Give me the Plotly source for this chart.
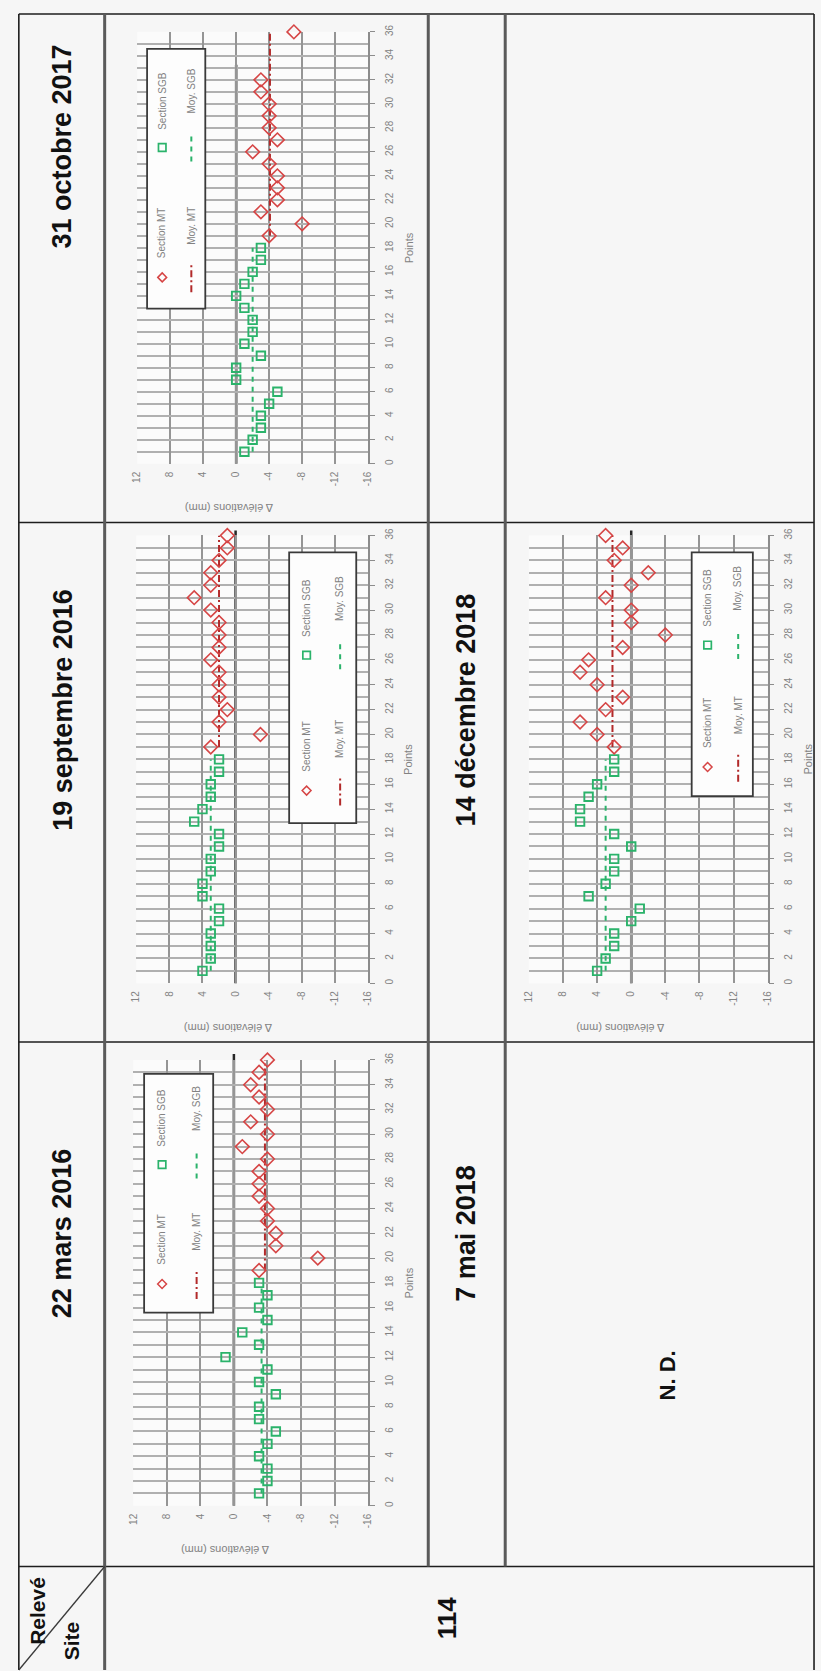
import plotly.graph_objects as go

W, H = 821, 1671


def fx(x):
    return x / W


def fy(y):
    return 1 - y / H


# ---------------- data ----------------
points_sgb = list(range(1, 19))
points_mt = list(range(19, 37))
value_ticks = [12, 8, 4, 0, -4, -8, -12, -16]
value_ticktext = ["12", "8", "4", "0", "-4", "-8", "-12", "-16"]
point_ticks = list(range(0, 37, 2))

dates_row1 = ["22 mars 2016", "19 septembre 2016", "31 octobre 2017"]
dates_row2 = ["7 mai 2018", "14 décembre 2018"]
site_label = "114"
nd_label = "N. D."

# 22 mars 2016
sgb_2016_03 = [-3, -4, -4, -3, -4, -5, -3, -3, -5, -3, -4, 1, -3, -1, -4, -3, -4, -3]
mt_2016_03 = [-3, -10, -5, -5, -4, -4, -3, -3, -3, -4, -1, -4, -2, -4, -3, -2, -3, -4]
moy_sgb_2016_03 = -3.3
moy_mt_2016_03 = -3.7

# 19 septembre 2016
sgb_2016_09 = [4, 3, 3, 3, 2, 2, 4, 4, 3, 3, 2, 2, 5, 4, 3, 3, 2, 2]
mt_2016_09 = [3, -3, 2, 1, 2, 2, 2, 3, 2, 2, 2, 3, 5, 3, 3, 2, 1, 1]
moy_sgb_2016_09 = 3.0
moy_mt_2016_09 = 2.0

# 31 octobre 2017
sgb_2017_10 = [-1, -2, -3, -3, -4, -5, 0, 0, -3, -1, -2, -2, -1, 0, -1, -2, -3, -3]
mt_2017_10 = [-4, -8, -3, -5, -5, -5, -4, -2, -5, -4, -4, -4, -3, -3, None, None, None, -7]
moy_sgb_2017_10 = -2.0
moy_mt_2017_10 = -4.1

# 14 décembre 2018
sgb_2018_12 = [4, 3, 2, 2, 0, -1, 5, 3, 2, 2, 0, 2, 6, 6, 5, 4, 2, 2]
mt_2018_12 = [2, 4, 6, 3, 1, 4, 6, 5, 1, -4, 0, 0, 3, 0, -2, 2, 1, 3]
moy_sgb_2018_12 = 3.0
moy_mt_2018_12 = 2.2

legend_labels = ["Section MT", "Section SGB", "Moy. MT", "Moy. SGB"]
x_title = "Points"
y_title = "Δ élévations (mm)"

# ---------------- styling / layout geometry ----------------
RED = "#d64545"
DARKRED = "#b22a2a"
GREEN = "#2bb36b"
GRID_V = "#959595"
GRID_H = "#b0b0b0"
TXT = "#828282"
BG = "#f6f6f6"
BASE_FONT = "Liberation Sans, Arial, sans-serif"
HEAD_FONT = "Liberation Sans, Arial, sans-serif"
DASH_SGB = "5px,5px"
DASH_MT = "7px,3px,2px,3px"

charts = [
    dict(sgb=sgb_2016_03, mt=mt_2016_03, msgb=moy_sgb_2016_03, mmt=moy_mt_2016_03,
         l=129, r=367, t=1058, b=1506, zt=1052, leg=(140, 1072, 210, 1312)),
    dict(sgb=sgb_2016_09, mt=mt_2016_09, msgb=moy_sgb_2016_09, mmt=moy_mt_2016_09,
         l=132, r=367, t=531, b=981, zt=526, leg=(287, 548, 355, 820)),
    dict(sgb=sgb_2017_10, mt=mt_2017_10, msgb=moy_sgb_2017_10, mmt=moy_mt_2017_10,
         l=133, r=367, t=25, b=459, zt=58, leg=(143, 42, 202, 303)),
    dict(sgb=sgb_2018_12, mt=mt_2018_12, msgb=moy_sgb_2018_12, mmt=moy_mt_2018_12,
         l=530, r=772, t=531, b=981, zt=526, leg=(695, 548, 757, 793)),
]

fig = go.Figure()
shapes = []
annotations = []
layout_axes = {}


def note(text, x, y, angle=-90, size=10, color=TXT, family=BASE_FONT, weight="normal",
         xanchor="center", yanchor="middle"):
    annotations.append(dict(text=text, xref="paper", yref="paper", x=fx(x), y=fy(y),
                            textangle=angle, showarrow=False, xanchor=xanchor, yanchor=yanchor,
                            font=dict(size=size, color=color, family=family, weight=weight)))


for i, c in enumerate(charts, start=1):
    xa = "x" if i == 1 else f"x{i}"
    ya = "y" if i == 1 else f"y{i}"
    fig.add_trace(go.Scatter(x=[c["msgb"], c["msgb"]], y=[points_sgb[0], points_sgb[-1]],
                             xaxis=xa, yaxis=ya, mode="lines",
                             line=dict(color=GREEN, dash=DASH_SGB, width=2)))
    fig.add_trace(go.Scatter(x=[c["mmt"], c["mmt"]], y=[points_mt[0], points_mt[-1]],
                             xaxis=xa, yaxis=ya, mode="lines",
                             line=dict(color=DARKRED, dash=DASH_MT, width=2)))
    fig.add_trace(go.Scatter(x=c["sgb"], y=points_sgb, xaxis=xa, yaxis=ya, mode="markers",
                             cliponaxis=False,
                             marker=dict(symbol="square-open", size=8.5, color=GREEN,
                                         line=dict(width=1.9, color=GREEN))))
    fig.add_trace(go.Scatter(x=c["mt"], y=points_mt, xaxis=xa, yaxis=ya, mode="markers",
                             cliponaxis=False,
                             marker=dict(symbol="diamond-open", size=10.5, color=RED,
                                         line=dict(width=1.6, color=RED))))

    kx = "xaxis" if i == 1 else f"xaxis{i}"
    ky = "yaxis" if i == 1 else f"yaxis{i}"
    layout_axes[kx] = dict(domain=[fx(c["l"]), fx(c["r"])], range=[12, -16], anchor=ya,
                           tickmode="array", tickvals=value_ticks, ticktext=value_ticktext,
                           tickangle=-90, showgrid=True, gridcolor=GRID_V, gridwidth=2,
                           zeroline=False, showline=False, ticks="",
                           ticklabelstandoff=5,
                           tickfont=dict(size=10, color=TXT, family=BASE_FONT))
    layout_axes[ky] = dict(domain=[fy(c["b"]), fy(c["t"])], range=[0, 36], anchor=xa,
                           side="right", tickmode="linear", tick0=0, dtick=2,
                           tickangle=-90, showgrid=True, gridcolor=GRID_H, gridwidth=1.5,
                           minor=dict(dtick=1, tick0=0, showgrid=True, gridcolor=GRID_H,
                                      gridwidth=1.5),
                           showline=True, linecolor="#8c8c8c", linewidth=1.5,
                           ticks="outside", ticklen=5, tickcolor="#8c8c8c", tickwidth=1.2,
                           zeroline=False, ticklabelstandoff=6,
                           tickfont=dict(size=10, color=TXT, family=BASE_FONT))

    # zero line
    shapes.append(dict(type="line", xref=xa, yref="paper", x0=0, x1=0,
                       y0=fy(c["b"]), y1=fy(c["zt"]), layer="between",
                       line=dict(color="#262626", width=2.5)))

    # axis titles
    note(x_title, c["r"] + 41, (c["t"] + c["b"]) / 2, size=11)
    note(y_title, c["l"] + 93, c["b"] + 45, angle=180, size=11)

    # hand-drawn rotated legend
    bx0, by0, bx1, by1 = c["leg"]
    w, h = bx1 - bx0, by1 - by0
    shapes.append(dict(type="rect", xref="paper", yref="paper", x0=fx(bx0), x1=fx(bx1),
                       y0=fy(by1), y1=fy(by0), fillcolor="#fdfdfd",
                       line=dict(color="#3a3a3a", width=1.8), layer="above"))
    c1x = bx0 + 0.26 * w
    c2x = bx0 + 0.76 * w
    ga = by1 - 0.12 * h
    gb = by1 - 0.62 * h
    d = 4.5
    shapes.append(dict(type="path", xref="paper", yref="paper",
                       path=f"M {fx(c1x - d)} {fy(ga)} L {fx(c1x)} {fy(ga - d)} L {fx(c1x + d)} {fy(ga)} L {fx(c1x)} {fy(ga + d)} Z",
                       line=dict(color=RED, width=1.5), layer="above"))
    s = 3.8
    shapes.append(dict(type="rect", xref="paper", yref="paper", x0=fx(c1x - s), x1=fx(c1x + s),
                       y0=fy(gb + s), y1=fy(gb - s), line=dict(color=GREEN, width=1.7),
                       layer="above"))
    shapes.append(dict(type="line", xref="paper", yref="paper", x0=fx(c2x), x1=fx(c2x),
                       y0=fy(ga + 15), y1=fy(ga - 15), line=dict(color=DARKRED, width=2, dash=DASH_MT),
                       layer="above"))
    shapes.append(dict(type="line", xref="paper", yref="paper", x0=fx(c2x), x1=fx(c2x),
                       y0=fy(gb + 14), y1=fy(gb - 14), line=dict(color=GREEN, width=2, dash=DASH_SGB),
                       layer="above"))
    for txt, xx, yy in [(legend_labels[0], c1x, ga - 17), (legend_labels[1], c1x, gb - 16),
                        (legend_labels[2], c2x, ga - 31), (legend_labels[3], c2x, gb - 32)]:
        note(txt, xx, yy, size=10, yanchor="bottom")

# ---------------- table lines ----------------
for yy in [7, 518, 1040, 1567]:
    shapes.append(dict(type="line", xref="paper", yref="paper", x0=fx(13), x1=fx(819),
                       y0=fy(yy), y1=fy(yy), line=dict(color="#1e1e1e", width=1.6)))
for xx in [13, 819]:
    shapes.append(dict(type="line", xref="paper", yref="paper", x0=fx(xx), x1=fx(xx),
                       y0=fy(7), y1=fy(1671), line=dict(color="#1e1e1e", width=1.6)))
shapes.append(dict(type="line", xref="paper", yref="paper", x0=fx(100), x1=fx(100),
                   y0=fy(7), y1=fy(1671), line=dict(color="#5a5a5a", width=3)))
for xx in [428, 506]:
    shapes.append(dict(type="line", xref="paper", yref="paper", x0=fx(xx), x1=fx(xx),
                       y0=fy(7), y1=fy(1567), line=dict(color="#5a5a5a", width=3)))
shapes.append(dict(type="line", xref="paper", yref="paper", x0=fx(13), x1=fx(100),
                   y0=fy(1671), y1=fy(1567), line=dict(color="#3a3a3a", width=1.3)))

# ---------------- header texts ----------------
HEAD = dict(family=HEAD_FONT, color="#111111", weight="bold")
for txt, yy in zip(dates_row1, [1232, 706, 140]):
    note(txt, 57, yy, size=27, **HEAD)
for txt, yy in zip(dates_row2, [1232, 706]):
    note(txt, 466, yy, size=27, **HEAD)
note(nd_label, 670, 1375, size=22, **HEAD)
note(site_label, 447, 1619, size=26, **HEAD)
note("Relevé", 32, 1612, size=21, **HEAD)
note("Site", 66, 1642, size=21, **HEAD)

fig.update_layout(width=W, height=H, margin=dict(l=0, r=0, t=0, b=0),
                  paper_bgcolor=BG, plot_bgcolor="#fbfbfb", showlegend=False,
                  shapes=shapes, annotations=annotations, **layout_axes)

fig.write_html("out.html")
